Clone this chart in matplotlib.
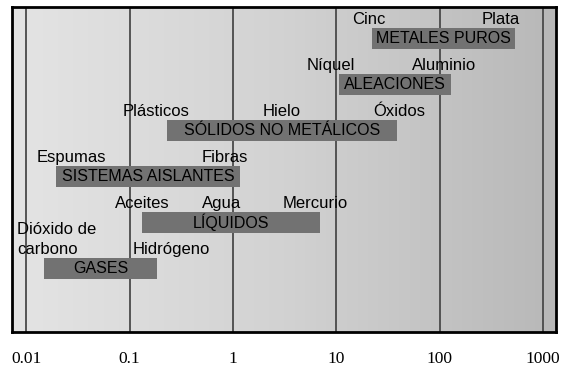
import numpy as np
import matplotlib
matplotlib.use("Agg")
import matplotlib.pyplot as plt

# rangos de conductividad térmica (W/m·K), de abajo hacia arriba
grupos = ["GASES", "LÍQUIDOS", "SISTEMAS AISLANTES",
          "SÓLIDOS NO METÁLICOS", "ALEACIONES", "METALES PUROS"]
k_min = [0.015, 0.133, 0.0194, 0.23, 10.7, 22.0]
k_max = [0.186, 7.0, 1.17, 38.6, 128.0, 537.0]

# materiales de referencia (texto, valor donde empieza el texto, fila)
materiales = ["Dióxido de\ncarbono", "Hidrógeno", "Aceites", "Agua", "Mercurio",
              "Espumas", "Fibras", "Plásticos", "Hielo", "Óxidos",
              "Níquel", "Aluminio", "Cinc", "Plata"]
k_material = [0.0082, 0.107, 0.073, 0.50, 3.03, 0.0125, 0.50, 0.086, 1.94, 22.7,
              5.15, 53.8, 14.3, 253.0]
fila_material = [0, 0, 1, 1, 1, 2, 2, 3, 3, 3, 4, 4, 5, 5]

ticks = [0.01, 0.1, 1, 10, 100, 1000]
tick_labels = ["0.01", "0.1", "1", "10", "100", "1000"]

plt.rcParams['font.family'] = ['Liberation Sans', 'DejaVu Sans']

fig = plt.figure(figsize=(5.61, 3.70), dpi=100)
ax = fig.add_axes([0.0214, 0.1027, 0.9697, 0.8784])
ax.set_xscale('log')
ax.set_xlim(0.0073, 1334)
ax.set_ylim(-1.38, 5.685)

# fondo degradado (más claro a la izquierda)
grad = np.linspace(0, 1, 256).reshape(1, -1)
ax.imshow(grad, extent=[0, 1, 0, 1], transform=ax.transAxes, aspect='auto',
          cmap=plt.matplotlib.colors.LinearSegmentedColormap.from_list(
              'fondo', ['#e4e4e4', '#d2d2d2', '#b8b8b8']),
          zorder=0, interpolation='bicubic')

for t in ticks:
    ax.axvline(t, color='#4a4a4a', lw=1.3, zorder=1)

filas = np.arange(len(grupos))
alto = 0.46
ax.barh(filas, np.array(k_max) - np.array(k_min), left=k_min, height=alto,
        color='#727272', edgecolor='none', zorder=2)
for f, g, a, b in zip(filas, grupos, k_min, k_max):
    ax.text(np.sqrt(a * b), f, g, ha='center', va='center', fontsize=11.5,
            color='black', zorder=3)

for m, k, f in zip(materiales, k_material, fila_material):
    ax.text(k, f + alto / 2 + 0.02, m, ha='left', va='bottom', fontsize=12,
            color='black', zorder=3, linespacing=1.4)

ax.set_xticks(ticks)
ax.set_xticklabels(tick_labels, family='Liberation Serif', fontsize=12.5)
ax.minorticks_off()
ax.tick_params(axis='x', length=0, pad=14)
ax.set_yticks([])
for s in ax.spines.values():
    s.set_linewidth(2)
    s.set_color('black')

fig.savefig('out.png', dpi=100)
